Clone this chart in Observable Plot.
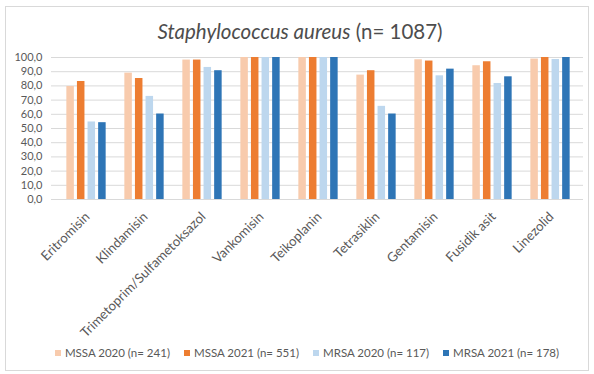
<!DOCTYPE html>
<html>
<head>
<meta charset="utf-8">
<script src="https://cdn.jsdelivr.net/npm/d3@7"></script>
<script src="https://cdn.jsdelivr.net/npm/@observablehq/plot@0.6"></script>
<style>
  html, body { margin: 0; padding: 0; background: #fff; }
  #wrap { position: relative; width: 594px; height: 374px; overflow: hidden; font-family: Lato, "Open Sans", sans-serif; }
  #frame { position: absolute; left: 5px; top: 6px; width: 584px; height: 365px; border: 1px solid #d9d9d9; box-sizing: border-box; }
  #title { position: absolute; left: 0; top: 19px; width: 600px; text-align: center; font-size: 20.5px; color: #4d4d4d; }
  #chart { position: absolute; left: 0; top: 45px; }
  #legend { position: absolute; left: 10px; top: 346px; width: 594px; display: flex; justify-content: center; gap: 14px; font-size: 11.5px; color: #595959; }
  #legend .item { display: flex; align-items: center; gap: 4px; }
  #legend .sw { width: 6px; height: 6px; display: inline-block; }
</style>
</head>
<body>
<div id="wrap">
  <div id="frame"></div>
  <div id="title"><i>Staphylococcus aureus</i> (n= 1087)</div>
  <div id="chart"></div>
  <div id="legend"></div>
</div>
<script>
const categories = ["Eritromisin", "Klindamisin", "Trimetoprim/Sulfametoksazol", "Vankomisin", "Teikoplanin", "Tetrasiklin", "Gentamisin", "Fusidik asit", "Linezolid"];
const seriesNames = ["MSSA 2020 (n= 241)", "MSSA 2021 (n= 551)", "MRSA 2020 (n= 117)", "MRSA 2021 (n= 178)"];
const seriesColors = ["#F8CBAD", "#ED7D31", "#BDD7EE", "#2E75B6"];
const mssa2020 = [79.6, 89.0, 98.2, 100, 100, 87.6, 98.4, 94.2, 98.9];
const mssa2021 = [83.1, 85.2, 98.2, 100, 100, 90.7, 97.5, 97.0, 100];
const mrsa2020 = [54.6, 72.6, 93.0, 100, 100, 65.6, 87.1, 81.7, 98.6];
const mrsa2021 = [54.1, 60.2, 90.7, 100, 100, 60.2, 91.8, 86.4, 100];
const yTicks = [0, 10, 20, 30, 40, 50, 60, 70, 80, 90, 100];

const seriesValues = [mssa2020, mssa2021, mrsa2020, mrsa2021];
const rows = [];
seriesNames.forEach((s, si) => categories.forEach((c, ci) => rows.push({category: c, series: s, si, value: seriesValues[si][ci]})));

const width = 594, height = 290;
const xRange = [53, 583];
const step = (xRange[1] - xRange[0]) / categories.length;
const barW = 8.4, barStep = 10.6;
const groupW = barStep * 3 + barW;
const fmt = d => d3.format(".1f")(d).replace(".", ",");

const marks = [
  Plot.ruleY(yTicks, {stroke: "#d9d9d9", strokeWidth: 1}),
  ...seriesNames.map((s, si) => {
    const left = (step - groupW) / 2 + si * barStep;
    return Plot.barY(rows.filter(r => r.si === si), {
      x: "category", y: "value", fill: seriesColors[si],
      insetLeft: left, insetRight: step - left - barW
    });
  }),
  Plot.axisY(yTicks, {tickSize: 0, tickPadding: 9, tickFormat: fmt, fontSize: 11, fill: "#595959"}),
  Plot.axisX({tickRotate: -45, tickSize: 0, tickPadding: 15, dx: 1, fontSize: 13.2, fill: "#595959"})
];

const chart = Plot.plot({
  width, height,
  marginTop: 12, marginBottom: 136, marginLeft: 51, marginRight: 11,
  style: {fontFamily: "Lato, 'Open Sans', sans-serif", color: "#595959", background: "transparent", overflow: "visible"},
  x: {domain: categories, range: xRange, padding: 0, label: null},
  y: {domain: [0, 100], label: null},
  marks
});
document.getElementById("chart").appendChild(chart);

const legend = document.getElementById("legend");
seriesNames.forEach((s, i) => {
  const it = document.createElement("div");
  it.className = "item";
  it.innerHTML = `<span class="sw" style="background:${seriesColors[i]}"></span><span>${s}</span>`;
  legend.appendChild(it);
});
</script>
</body>
</html>
